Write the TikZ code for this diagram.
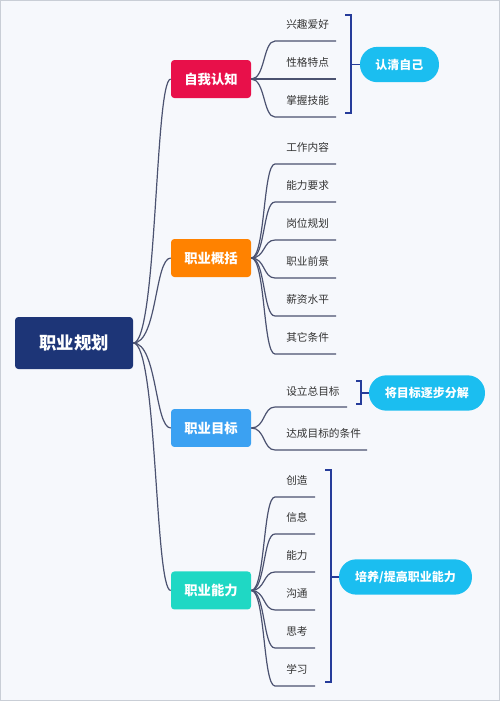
\documentclass[tikz,border=0pt]{standalone}
\usepackage{fontspec}
\setmainfont{Noto Sans CJK SC}
\definecolor{bgc}{HTML}{F6F8FC}
\definecolor{borderc}{HTML}{C9CED6}
\definecolor{rootc}{HTML}{1D3577}
\definecolor{c1}{HTML}{E8104A}
\definecolor{c2}{HTML}{FF8200}
\definecolor{c3}{HTML}{3BA1F2}
\definecolor{c4}{HTML}{1FD8C4}
\definecolor{callc}{HTML}{1BBEF0}
\definecolor{brc}{HTML}{263C9A}
\definecolor{connc}{HTML}{4B5270}
\definecolor{leafc}{HTML}{333333}
\tikzset{
  rootbox/.style={fill=rootc, text=white, rounded corners=2.5pt, minimum width=88.5pt, minimum height=39pt, font=\fontsize{13}{15}\selectfont\bfseries, inner sep=0pt},
  branch/.style={rounded corners=2.5pt, text=white, minimum width=60pt, minimum height=28.5pt, font=\fontsize{10}{12}\selectfont\bfseries, inner sep=0pt},
  callout/.style={fill=callc, text=white, rounded corners=13pt, minimum height=26.5pt, font=\fontsize{9}{11}\selectfont\bfseries, inner sep=0pt},
  leaf/.style={text=leafc, font=\fontsize{8}{10}\selectfont, inner sep=0pt, anchor=west},
  conn/.style={draw=connc, line width=0.9pt},
  brk/.style={draw=brc, line width=1.4pt},
}
\begin{document}
\begin{tikzpicture}[x=0.75pt,y=-0.75pt]
\fill[bgc] (0,0) rectangle (500,701);
\draw[borderc, line width=0.8pt] (0.5,0.5) rectangle (499.5,700.5);
\useasboundingbox (0,0) rectangle (500,701);

% root and branches
\node[rootbox] (root) at (74,343) {职业规划};
\node[branch, fill=c1] (b1) at (211,79) {自我认知};
\node[branch, fill=c2] (b2) at (211,258) {职业概括};
\node[branch, fill=c3] (b3) at (211,428) {职业目标};
\node[branch, fill=c4] (b4) at (211,590.5) {职业能力};

\foreach \b in {b1,b2,b3,b4}
  \draw[conn] (root.east) .. controls +(24,0) and +(-16,0) .. (\b.west);

% branch 1 leaves
\foreach \i/\t/\y in {1/兴趣爱好/41, 2/性格特点/79, 3/掌握技能/117}{
  \node[leaf] (a\i) at (286,\y-17) {\t};
  \coordinate (ua\i) at (275,\y);
  \coordinate (va\i) at (336,\y);
  \draw[conn] (b1.east) .. controls +(14,0) and +(-12,0) .. (ua\i) -- (va\i);
}
% branch 2 leaves
\foreach \i/\t/\y in {1/工作内容/164, 2/能力要求/202, 3/岗位规划/240, 4/职业前景/278, 5/薪资水平/316, 6/其它条件/354}{
  \node[leaf] (p\i) at (286,\y-17) {\t};
  \coordinate (up\i) at (275,\y);
  \coordinate (vp\i) at (336,\y);
  \draw[conn] (b2.east) .. controls +(14,0) and +(-12,0) .. (up\i) -- (vp\i);
}
% branch 3 leaves
\node[leaf] (g1) at (286,391) {设立总目标};
\coordinate (ug1) at (275,407);
\coordinate (vg1) at (347,407);
\draw[conn] (b3.east) .. controls +(14,0) and +(-12,0) .. (ug1) -- (vg1);
\node[leaf] (g2) at (286,433) {达成目标的条件};
\coordinate (ug2) at (275,450);
\coordinate (vg2) at (367,450);
\draw[conn] (b3.east) .. controls +(14,0) and +(-12,0) .. (ug2) -- (vg2);

% branch 4 leaves
\foreach \i/\t/\y in {1/创造/497, 2/信息/534, 3/能力/572, 4/沟通/610, 5/思考/648, 6/学习/686}{
  \node[leaf] (k\i) at (286,\y-17) {\t};
  \coordinate (uk\i) at (275,\y);
  \coordinate (vk\i) at (315,\y);
  \draw[conn] (b4.east) .. controls +(14,0) and +(-12,0) .. (uk\i) -- (vk\i);
}

% callouts
\node[callout, minimum width=59.25pt] (s1) at (399.5,64.5) {认清自己};
\node[callout, minimum width=87pt] (s2) at (427,393) {将目标逐步分解};
\node[callout, minimum width=99.75pt] (s3) at (405.5,577) {培养/提高职业能力};

% brackets
\draw[brk] (345,15) -- (351,15) -- (351,113) -- (345,113);
\coordinate (m1) at (351,64.5);
\draw[brk] (m1) -- (s1.west);
\draw[brk] (356,381) -- (361,381) -- (361,404) -- (356,404);
\coordinate (m2) at (361,393);
\draw[brk] (m2) -- (s2.west);
\draw[brk] (325,470) -- (331,470) -- (331,682) -- (325,682);
\coordinate (m3) at (331,577);
\draw[brk] (m3) -- (s3.west);
\end{tikzpicture}
\end{document}
